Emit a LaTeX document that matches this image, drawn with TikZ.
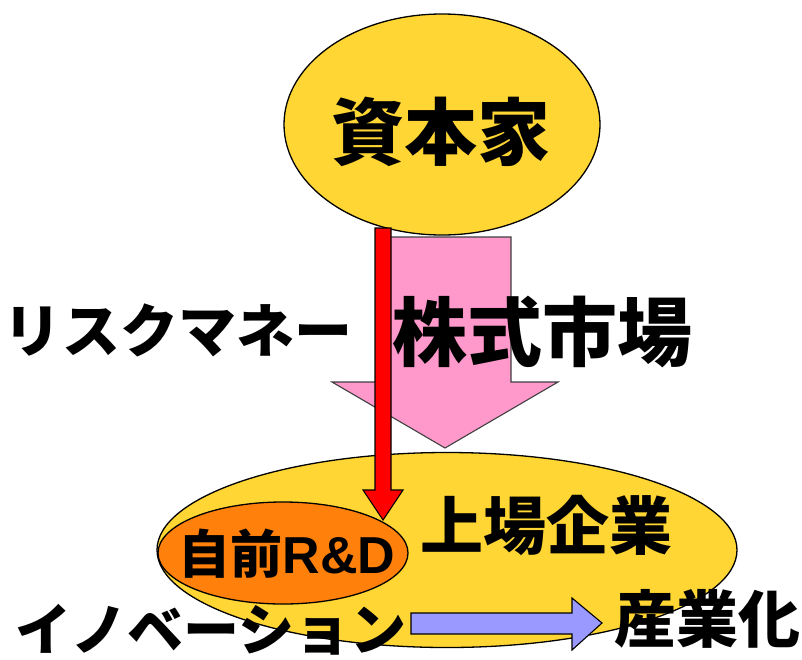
\documentclass[tikz,border=0pt]{standalone}
\usepackage{fontspec}
\setmainfont{Liberation Sans}
\newfontfamily\jp{Noto Sans CJK JP}
\usetikzlibrary{shapes.geometric}
\definecolor{capyellow}{RGB}{255,214,51}
\definecolor{mktpink}{RGB}{255,153,204}
\definecolor{rdorange}{RGB}{255,128,10}
\definecolor{flowblue}{RGB}{153,153,255}
\tikzset{
  ell/.style={ellipse, draw=black, line width=1.3pt, inner sep=0pt, outer sep=0pt},
  lbl/.style={inner sep=0pt, text=black},
  blockarrow/.style={draw=black, line width=1.1pt, line join=miter},
}
\begin{document}
\begin{tikzpicture}[x=1pt,y=-1pt]
\useasboundingbox[fill=white] (0,0) rectangle (802,659);
% top ellipse
\node[ell, fill=capyellow, minimum width=316, minimum height=221] (cap) at (442,124.5) {};
% pink market arrow
\coordinate (pk) at (445,448);
\filldraw[blockarrow, fill=mktpink, draw=black!75]
  (390,237) -- (511,237) -- (511,382) -- (558,382) -- (pk) -- (332,382) -- (390,382) -- cycle;
% bottom ellipse
\node[ell, fill=capyellow, minimum width=580, minimum height=195] (firm) at (447,550) {};
\node[ell, fill=rdorange, minimum width=250, minimum height=102] (rd) at (283,553) {};
% red arrow
\coordinate (rtop) at (383,228);
\coordinate (rtip) at (383,520);
\filldraw[blockarrow, fill=red]
  ([xshift=-8pt]rtop) -- ([xshift=8pt]rtop) -- (391,490) -- (403,490) -- (rtip) -- (363,490) -- (375,490) -- cycle;
% blue arrow
\coordinate (btip) at (602,623);
\filldraw[blockarrow, fill=flowblue]
  (411,613) -- (572,613) -- (572,598) -- (btip) -- (572,650) -- (572,634) -- (411,634) -- cycle;
% texts
\node[lbl] (t1) at (441,132) {\jp\bfseries\fontsize{73}{73}\selectfont 資本家};
\node[lbl] (t2) at (542,332) {\jp\bfseries\fontsize{75}{75}\selectfont 株式市場};
\node[lbl] (t3) at (178,330) {\jp\bfseries\fontsize{58}{58}\selectfont リスクマネー};
\node[lbl] (t4) at (546,525) {\jp\bfseries\fontsize{63}{63}\selectfont 上場企業};
\node[lbl] (t5) at (287,554) {\jp\bfseries\fontsize{52}{52}\selectfont 自前\rmfamily\bfseries R\&D};
\node[lbl] (t6) at (211,630) {\jp\bfseries\fontsize{56}{56}\selectfont イノベーション};
\node[lbl] (t7) at (707,619) {\jp\bfseries\fontsize{62}{62}\selectfont 産業化};
\end{tikzpicture}
\end{document}
